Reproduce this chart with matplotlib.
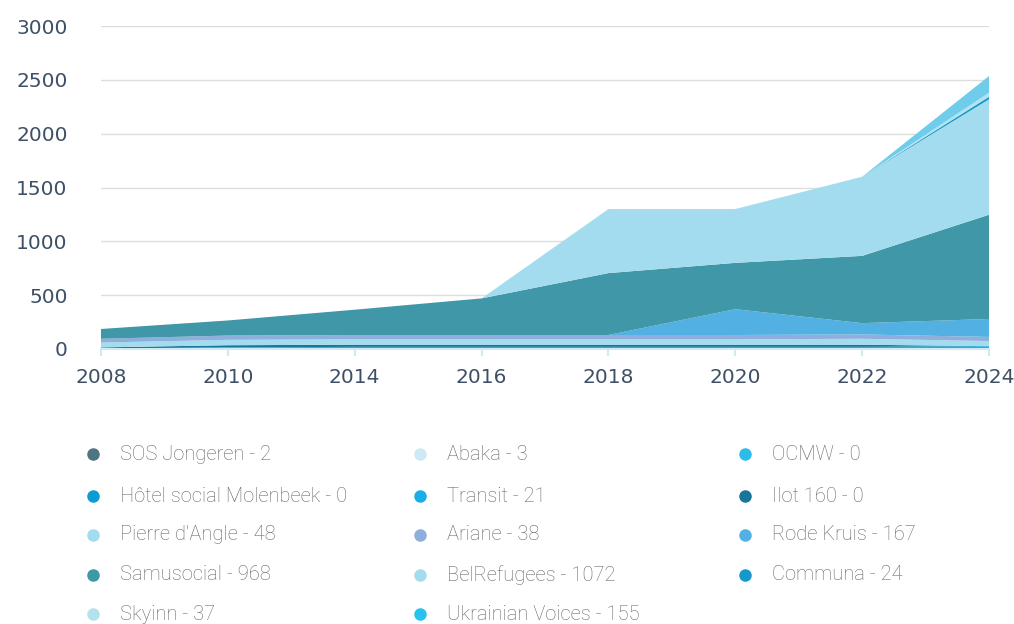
import numpy as np
import matplotlib.pyplot as plt
from matplotlib.lines import Line2D

years = ['2008', '2010', '2014', '2016', '2018', '2020', '2022', '2024']

names = ['SOS Jongeren', 'Abaka', 'OCMW', 'Hôtel social Molenbeek', 'Transit',
         'Ilot 160', "Pierre d'Angle", 'Ariane', 'Rode Kruis', 'Samusocial',
         'BelRefugees', 'Communa', 'Skyinn', 'Ukrainian Voices']

sos_jongeren = [0, 0, 0, 0, 0, 0, 0, 2]
abaka = [0, 0, 0, 0, 0, 0, 0, 3]
ocmw = [0, 0, 0, 0, 0, 0, 0, 0]
hotel_social = [0, 0, 0, 0, 0, 0, 0, 0]
transit = [5, 15, 20, 20, 20, 20, 20, 21]
ilot_160 = [10, 20, 20, 20, 20, 20, 20, 0]
pierre_dangle = [45, 50, 50, 50, 50, 50, 55, 48]
ariane = [35, 40, 40, 40, 40, 40, 40, 38]
rode_kruis = [0, 0, 0, 0, 0, 240, 105, 167]
samusocial = [91, 140, 235, 340, 575, 430, 625, 968]
belrefugees = [0, 0, 0, 0, 595, 500, 735, 1072]
communa = [0, 0, 0, 0, 0, 0, 0, 24]
skyinn = [0, 0, 0, 0, 0, 0, 0, 37]
ukrainian_voices = [0, 0, 0, 0, 0, 0, 0, 155]

series = [sos_jongeren, abaka, ocmw, hotel_social, transit, ilot_160,
          pierre_dangle, ariane, rode_kruis, samusocial, belrefugees,
          communa, skyinn, ukrainian_voices]

colors = ['#4f7582', '#cde9f5', '#2bbdea', '#0a9dd4', '#1aaee6', '#17769a',
          '#a2dcef', '#8eaedb', '#52b1e2', '#3f97a8', '#a4dcef', '#1798cc',
          '#b2e2f0', '#6fcdeb']
marker_colors = colors[:13] + ['#27c2ee']

fig = plt.figure(figsize=(10.14, 6.24), dpi=100)
ax = fig.add_axes([101 / 1014, 1 - 349 / 624, 888 / 1014, 323 / 624])

x = np.arange(len(years))
ax.stackplot(x, *series, colors=colors, linewidth=0)

ax.set_xlim(0, len(years) - 1)
ax.set_ylim(0, 3000)
ax.set_yticks([0, 500, 1000, 1500, 2000, 2500, 3000])
ax.set_xticks(x)
ax.set_xticklabels(years)
ax.yaxis.grid(True, color='#dddddd', linewidth=1)
ax.set_axisbelow(True)
for s in ['top', 'right', 'left']:
    ax.spines[s].set_visible(False)
ax.spines['bottom'].set_color('#cdebf7')
ax.spines['bottom'].set_linewidth(1.5)
ax.tick_params(axis='y', length=0, pad=24, labelsize=14.5, labelcolor='#3e5066')
ax.tick_params(axis='x', length=5, width=1.5, color='#cdebf7', pad=9,
               labelsize=14.5, labelcolor='#3e5066')
for lab in ax.get_xticklabels() + ax.get_yticklabels():
    lab.set_family('DejaVu Sans')

# legend, row by row in three columns
col_x = [93, 420, 745]
row_y = [454, 496, 535, 575, 614]
for i, (name, vals) in enumerate(zip(names, series)):
    r, c = divmod(i, 3)
    px = col_x[c] / 1014
    py = 1 - row_y[r] / 624
    fig.add_artist(Line2D([px], [py], marker='o', markersize=8, linestyle='none',
                          color=marker_colors[i], transform=fig.transFigure))
    fig.text(px + 27 / 1014, py, f'{name} - {vals[-1]}', fontsize=14.5,
             color='#666666', va='center', ha='left', family='Roboto',
             fontweight='light')

fig.savefig('out.png', dpi=100)
